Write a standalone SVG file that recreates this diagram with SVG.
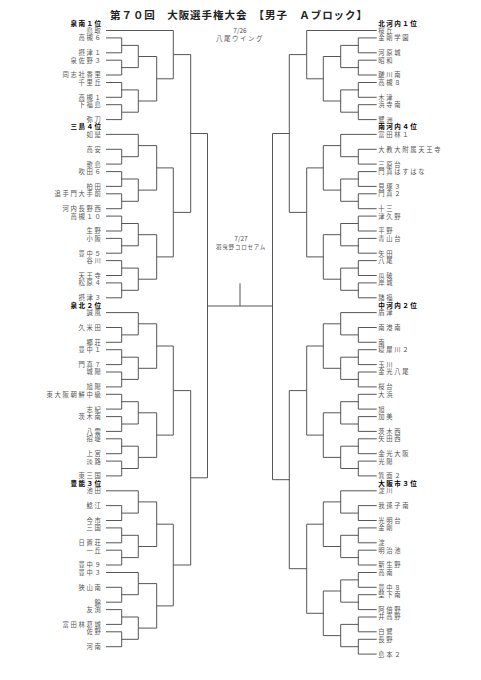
<svg xmlns="http://www.w3.org/2000/svg" width="481" height="680" viewBox="0 0 481 680">
<style>
text{font-family:"Noto Sans CJK JP","Noto Sans",sans-serif}
.n{font-size:6.3px;letter-spacing:1.7px;fill:#555}
.l{text-anchor:end}
.h{font-size:6.6px;letter-spacing:1.4px;font-weight:bold;fill:#000}
.t{font-size:10.5px;font-weight:bold;fill:#222}
.d{font-size:6.5px;fill:#555;text-anchor:middle}
.c path{fill:none;stroke:#444;stroke-width:0.9}
</style>
<rect width="481" height="680" fill="#fff"/>
<g id="title"><text class="t" x="110" y="19" textLength="257" lengthAdjust="spacing">第７０回　大阪選手権大会　【男子　Ａブロック】</text></g>
<g id="venue1"><text class="d" x="240" y="33">7/26</text><text class="d" x="240" y="41" style="letter-spacing:1.5px">八尾ウイング</text></g>
<g id="venue2"><text class="d" x="241" y="240.5">7/27</text><text class="d" x="241" y="249" style="font-size:5.5px;letter-spacing:0.8px">羽曳野コロセアム</text></g>

<g id="left-teams" class="n l">
<g id="L00"><text class="h" x="102.5" y="25.5">泉南１位</text></g>
<g id="L01"><text x="102.5" y="32.9">鳥取</text></g>
<g id="L02"><text x="102.5" y="40.3">高槻６</text></g>
<g id="L04"><text x="102.5" y="55.2">摂津１</text></g>
<g id="L05"><text x="102.5" y="62.6">泉佐野３</text></g>
<g id="L07"><text x="102.5" y="77.4">同志社香里</text></g>
<g id="L08"><text x="102.5" y="84.9">千里丘</text></g>
<g id="L10"><text x="102.5" y="99.7">高槻１</text></g>
<g id="L11"><text x="102.5" y="107.1">下福島</text></g>
<g id="L13"><text x="102.5" y="122.0">弥刀</text></g>
<g id="L14"><text class="h" x="102.5" y="129.4">三島４位</text></g>
<g id="L15"><text x="102.5" y="136.8">如是</text></g>
<g id="L17"><text x="102.5" y="151.7">高安</text></g>
<g id="L19"><text x="102.5" y="166.5">歌島</text></g>
<g id="L20"><text x="102.5" y="174.0">吹田６</text></g>
<g id="L22"><text x="102.5" y="188.8">柏田</text></g>
<g id="L23"><text x="102.5" y="196.2">追手門大手前</text></g>
<g id="L25"><text x="102.5" y="211.1">河内長野西</text></g>
<g id="L26"><text x="102.5" y="218.5">高槻１０</text></g>
<g id="L28"><text x="102.5" y="233.4">生野</text></g>
<g id="L29"><text x="102.5" y="240.8">小阪</text></g>
<g id="L31"><text x="102.5" y="255.6">豊中５</text></g>
<g id="L32"><text x="102.5" y="263.1">谷川</text></g>
<g id="L34"><text x="102.5" y="277.9">天王寺</text></g>
<g id="L35"><text x="102.5" y="285.3">松原４</text></g>
<g id="L37"><text x="102.5" y="300.2">摂津３</text></g>
<g id="L38"><text class="h" x="102.5" y="307.6">泉北２位</text></g>
<g id="L39"><text x="102.5" y="315.0">誠風</text></g>
<g id="L41"><text x="102.5" y="329.9">久米田</text></g>
<g id="L43"><text x="102.5" y="344.7">郷荘</text></g>
<g id="L44"><text x="102.5" y="352.1">豊中１</text></g>
<g id="L46"><text x="102.5" y="367.0">門真７</text></g>
<g id="L47"><text x="102.5" y="374.4">城陽</text></g>
<g id="L49"><text x="102.5" y="389.3">旭陽</text></g>
<g id="L50"><text x="102.5" y="396.7">東大阪朝鮮中級</text></g>
<g id="L52"><text x="102.5" y="411.5">志紀</text></g>
<g id="L53"><text x="102.5" y="419.0">茨木南</text></g>
<g id="L55"><text x="102.5" y="433.8">八雲</text></g>
<g id="L56"><text x="102.5" y="441.2">招堤</text></g>
<g id="L58"><text x="102.5" y="456.1">上宮</text></g>
<g id="L59"><text x="102.5" y="463.5">淡路</text></g>
<g id="L61"><text x="102.5" y="478.3">東三国</text></g>
<g id="L62"><text class="h" x="102.5" y="485.8">豊能３位</text></g>
<g id="L63"><text x="102.5" y="493.2">池田</text></g>
<g id="L65"><text x="102.5" y="508.0">鯰江</text></g>
<g id="L67"><text x="102.5" y="522.9">今市</text></g>
<g id="L68"><text x="102.5" y="530.3">三国</text></g>
<g id="L70"><text x="102.5" y="545.2">日置荘</text></g>
<g id="L71"><text x="102.5" y="552.6">一丘</text></g>
<g id="L73"><text x="102.5" y="567.4">豊中９</text></g>
<g id="L74"><text x="102.5" y="574.9">豊中３</text></g>
<g id="L76"><text x="102.5" y="589.7">狭山南</text></g>
<g id="L78"><text x="102.5" y="604.6">錦</text></g>
<g id="L79"><text x="102.5" y="612.0">友渕</text></g>
<g id="L81"><text x="102.5" y="626.8">富田林葛城</text></g>
<g id="L82"><text x="102.5" y="634.3">佐野</text></g>
<g id="L84"><text x="102.5" y="649.1">河南</text></g>
</g>

<g id="right-teams" class="n">
<g id="R00"><text class="h" x="378.3" y="25.5">北河内１位</text></g>
<g id="R01"><text x="378.3" y="32.9">桜丘</text></g>
<g id="R02"><text x="378.3" y="40.3">金剛学園</text></g>
<g id="R04"><text x="378.3" y="55.2">河原城</text></g>
<g id="R05"><text x="378.3" y="62.6">昭和</text></g>
<g id="R07"><text x="378.3" y="77.4">蹉川南</text></g>
<g id="R08"><text x="378.3" y="84.9">高槻８</text></g>
<g id="R10"><text x="378.3" y="99.7">木津</text></g>
<g id="R11"><text x="378.3" y="107.1">浜寺南</text></g>
<g id="R13"><text x="378.3" y="122.0">鷺洲</text></g>
<g id="R14"><text class="h" x="378.3" y="129.4">南河内４位</text></g>
<g id="R15"><text x="378.3" y="136.8">富田林１</text></g>
<g id="R17"><text x="378.3" y="151.7">大教大附属天王寺</text></g>
<g id="R19"><text x="378.3" y="166.5">三原台</text></g>
<g id="R20"><text x="378.3" y="174.0">門真はすはな</text></g>
<g id="R22"><text x="378.3" y="188.8">貝塚３</text></g>
<g id="R23"><text x="378.3" y="196.2">門真２</text></g>
<g id="R25"><text x="378.3" y="211.1">十三</text></g>
<g id="R26"><text x="378.3" y="218.5">津久野</text></g>
<g id="R28"><text x="378.3" y="233.4">平野</text></g>
<g id="R29"><text x="378.3" y="240.8">青山台</text></g>
<g id="R31"><text x="378.3" y="255.6">矢田</text></g>
<g id="R32"><text x="378.3" y="263.1">八尾</text></g>
<g id="R34"><text x="378.3" y="277.9">瓜破</text></g>
<g id="R35"><text x="378.3" y="285.3">岸城</text></g>
<g id="R37"><text x="378.3" y="300.2">諸福</text></g>
<g id="R38"><text class="h" x="378.3" y="307.6">中河内２位</text></g>
<g id="R39"><text x="378.3" y="315.0">盾津</text></g>
<g id="R41"><text x="378.3" y="329.9">南港南</text></g>
<g id="R43"><text x="378.3" y="344.7">南</text></g>
<g id="R44"><text x="378.3" y="352.1">寝屋川２</text></g>
<g id="R46"><text x="378.3" y="367.0">玉川</text></g>
<g id="R47"><text x="378.3" y="374.4">金光八尾</text></g>
<g id="R49"><text x="378.3" y="389.3">桜台</text></g>
<g id="R50"><text x="378.3" y="396.7">大浜</text></g>
<g id="R52"><text x="378.3" y="411.5">旭</text></g>
<g id="R53"><text x="378.3" y="419.0">加美</text></g>
<g id="R55"><text x="378.3" y="433.8">茨木西</text></g>
<g id="R56"><text x="378.3" y="441.2">矢田西</text></g>
<g id="R58"><text x="378.3" y="456.1">金光大阪</text></g>
<g id="R59"><text x="378.3" y="463.5">光陽</text></g>
<g id="R61"><text x="378.3" y="478.3">箕面２</text></g>
<g id="R62"><text class="h" x="378.3" y="485.8">大阪市３位</text></g>
<g id="R63"><text x="378.3" y="493.2">淀川</text></g>
<g id="R65"><text x="378.3" y="508.0">我孫子南</text></g>
<g id="R67"><text x="378.3" y="522.9">光明台</text></g>
<g id="R68"><text x="378.3" y="530.3">金剛</text></g>
<g id="R70"><text x="378.3" y="545.2">淀</text></g>
<g id="R71"><text x="378.3" y="552.6">明治池</text></g>
<g id="R73"><text x="378.3" y="567.4">新生野</text></g>
<g id="R74"><text x="378.3" y="574.9">高南</text></g>
<g id="R76"><text x="378.3" y="589.7">豊中８</text></g>
<g id="R77"><text x="378.3" y="597.1">堅下南</text></g>
<g id="R79"><text x="378.3" y="612.0">阿倍野</text></g>
<g id="R80"><text x="378.3" y="619.4">井高野</text></g>
<g id="R82"><text x="378.3" y="634.3">白鷺</text></g>
<g id="R83"><text x="378.3" y="641.7">長野</text></g>
<g id="R85"><text x="378.3" y="656.5">島本２</text></g>
</g>

<g id="connectors" class="c">
<path d="M106 30.5H173.3
M106 37.9H121.7V52.8H106M121.7 45.4H138.3
M106 60.2H121.7V75H106M121.7 67.6H138.3
M106 82.5H121.7V97.3H106M121.7 89.9H138.3
M106 104.7H121.7V119.6H106M121.7 112.2H138.3
M138.3 45.4V67.6M138.3 56.5H156.7
M138.3 89.9V112.2M138.3 101H156.7
M156.7 56.5V101M156.7 78.8H173.3
M173.3 30.5V78.8M173.3 54.6H190.7"/>
<path d="M106 134.4H138.3
M106 149.3H121.7V164.1H106M121.7 156.7H138.3
M106 171.6H121.7V186.4H106M121.7 179H138.3
M106 193.8H121.7V208.7H106M121.7 201.3H138.3
M106 216.1H121.7V231H106M121.7 223.5H138.3
M106 238.4H121.7V253.2H106M121.7 245.8H138.3
M106 260.6H121.7V275.5H106M121.7 268.1H138.3
M106 282.9H121.7V297.8H106M121.7 290.3H138.3
M138.3 134.4V156.7M138.3 145.6H156.7
M138.3 179V201.3M138.3 190.1H156.7
M138.3 223.5V245.8M138.3 234.7H156.7
M138.3 268.1V290.3M138.3 279.2H156.7
M156.7 145.6V190.1M156.7 167.9H173.3
M156.7 234.7V279.2M156.7 256.9H173.3
M173.3 167.9V256.9M173.3 212.4H190.7"/>
<path d="M106 312.6H138.3
M106 327.5H121.7V342.3H106M121.7 334.9H138.3
M106 349.7H121.7V364.6H106M121.7 357.2H138.3
M106 372H121.7V386.9H106M121.7 379.4H138.3
M106 394.3H121.7V409.1H106M121.7 401.7H138.3
M106 416.6H121.7V431.4H106M121.7 424H138.3
M106 438.8H121.7V453.7H106M121.7 446.2H138.3
M106 461.1H121.7V475.9H106M121.7 468.5H138.3
M138.3 312.6V334.9M138.3 323.8H156.7
M138.3 357.2V379.4M138.3 368.3H156.7
M138.3 401.7V424M138.3 412.8H156.7
M138.3 446.2V468.5M138.3 457.4H156.7
M156.7 323.8V368.3M156.7 346H173.3
M156.7 412.8V457.4M156.7 435.1H173.3
M173.3 346V435.1M173.3 390.6H190.7"/>
<path d="M106 490.8H138.3
M106 505.6H121.7V520.5H106M121.7 513.1H138.3
M106 527.9H121.7V542.8H106M121.7 535.3H138.3
M106 550.2H121.7V565H106M121.7 557.6H138.3
M106 572.5H138.3
M106 587.3H121.7V602.2H106M121.7 594.7H138.3
M106 609.6H121.7V624.4H106M121.7 617H138.3
M106 631.8H121.7V646.7H106M121.7 639.3H138.3
M138.3 490.8V513.1M138.3 501.9H156.7
M138.3 535.3V557.6M138.3 546.5H156.7
M138.3 572.5V594.7M138.3 583.6H156.7
M138.3 617V639.3M138.3 628.1H156.7
M156.7 501.9V546.5M156.7 524.2H173.3
M156.7 583.6V628.1M156.7 605.9H173.3
M173.3 524.2V605.9M173.3 565H190.7"/>
<path d="M190.7 54.6V212.4M190.7 133.5H207.5
M190.7 390.6V565M190.7 477.8H207.5
M207.5 133.5V477.8M207.5 306H272.5
M272.5 133.5V479.7
M240 306V283.3"/>
<path d="M376.7 30.5H306.7
M376.7 37.9H358.3V52.8H376.7M358.3 45.4H340.7
M376.7 60.2H358.3V75H376.7M358.3 67.6H340.7
M376.7 82.5H358.3V97.3H376.7M358.3 89.9H340.7
M376.7 104.7H358.3V119.6H376.7M358.3 112.2H340.7
M340.7 45.4V67.6M340.7 56.5H323.3
M340.7 89.9V112.2M340.7 101H323.3
M323.3 56.5V101M323.3 78.8H306.7
M306.7 30.5V78.8M306.7 54.6H289.3"/>
<path d="M376.7 134.4H340.7
M376.7 149.3H358.3V164.1H376.7M358.3 156.7H340.7
M376.7 171.6H358.3V186.4H376.7M358.3 179H340.7
M376.7 193.8H358.3V208.7H376.7M358.3 201.3H340.7
M376.7 216.1H358.3V231H376.7M358.3 223.5H340.7
M376.7 238.4H358.3V253.2H376.7M358.3 245.8H340.7
M376.7 260.6H358.3V275.5H376.7M358.3 268.1H340.7
M376.7 282.9H358.3V297.8H376.7M358.3 290.3H340.7
M340.7 134.4V156.7M340.7 145.6H323.3
M340.7 179V201.3M340.7 190.1H323.3
M340.7 223.5V245.8M340.7 234.7H323.3
M340.7 268.1V290.3M340.7 279.2H323.3
M323.3 145.6V190.1M323.3 167.9H306.7
M323.3 234.7V279.2M323.3 256.9H306.7
M306.7 167.9V256.9M306.7 212.4H289.3"/>
<path d="M376.7 312.6H340.7
M376.7 327.5H358.3V342.3H376.7M358.3 334.9H340.7
M376.7 349.7H358.3V364.6H376.7M358.3 357.2H340.7
M376.7 372H358.3V386.9H376.7M358.3 379.4H340.7
M376.7 394.3H358.3V409.1H376.7M358.3 401.7H340.7
M376.7 416.6H358.3V431.4H376.7M358.3 424H340.7
M376.7 438.8H358.3V453.7H376.7M358.3 446.2H340.7
M376.7 461.1H358.3V475.9H376.7M358.3 468.5H340.7
M340.7 312.6V334.9M340.7 323.8H323.3
M340.7 357.2V379.4M340.7 368.3H323.3
M340.7 401.7V424M340.7 412.8H323.3
M340.7 446.2V468.5M340.7 457.4H323.3
M323.3 323.8V368.3M323.3 346H306.7
M323.3 412.8V457.4M323.3 435.1H306.7
M306.7 346V435.1M306.7 390.6H289.3"/>
<path d="M376.7 490.8H340.7
M376.7 505.6H358.3V520.5H376.7M358.3 513.1H340.7
M376.7 527.9H358.3V542.8H376.7M358.3 535.3H340.7
M376.7 550.2H358.3V565H376.7M358.3 557.6H340.7
M376.7 572.5H358.3V587.3H376.7M358.3 579.9H340.7
M376.7 594.7H358.3V609.6H376.7M358.3 602.2H340.7
M376.7 617H358.3V631.8H376.7M358.3 624.4H340.7
M376.7 639.3H358.3V654.1H376.7M358.3 646.7H340.7
M340.7 490.8V513.1M340.7 501.9H323.3
M340.7 535.3V557.6M340.7 546.5H323.3
M340.7 579.9V602.2M340.7 591H323.3
M340.7 624.4V646.7M340.7 635.6H323.3
M323.3 501.9V546.5M323.3 524.2H306.7
M323.3 591V635.6M323.3 613.3H306.7
M306.7 524.2V613.3M306.7 568.7H289.3
M289.3 54.6V212.4M289.3 133.5H272.5
M289.3 390.6V568.7M289.3 479.7H272.5"/>
</g>
</svg>
